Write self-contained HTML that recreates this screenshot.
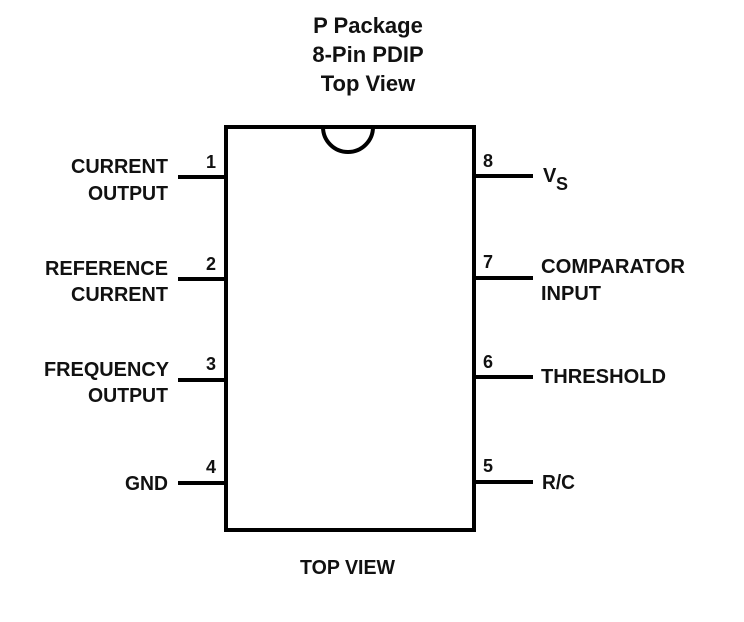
<!DOCTYPE html>
<html><head><style>body{margin:0;background:#fff}svg{display:block}</style></head>
<body>
<svg width="744" height="622" xmlns="http://www.w3.org/2000/svg" font-family="Liberation Sans, Arial, sans-serif" font-weight="bold" fill="#111">
<text x="368" y="33" font-size="22" text-anchor="middle">P Package</text>
<text x="368" y="62" font-size="22" text-anchor="middle">8-Pin PDIP</text>
<text x="368" y="91" font-size="22" text-anchor="middle">Top View</text>
<g stroke="#000" stroke-width="4" fill="none">
<rect x="226" y="127" width="248" height="403"/>
<path d="M323 127 A25 25 0 0 0 373 127"/>
<path d="M178 177H226M178 279H226M178 380H226M178 483H226M474 176H533M474 278H533M474 377H533M474 482H533"/>
</g>
<g font-size="20">
<text x="71" y="173" textLength="97" lengthAdjust="spacingAndGlyphs">CURRENT</text>
<text x="88" y="200" textLength="80" lengthAdjust="spacingAndGlyphs">OUTPUT</text>
<text x="45" y="275" textLength="123" lengthAdjust="spacingAndGlyphs">REFERENCE</text>
<text x="71" y="301" textLength="97" lengthAdjust="spacingAndGlyphs">CURRENT</text>
<text x="44" y="376" textLength="125" lengthAdjust="spacingAndGlyphs">FREQUENCY</text>
<text x="88" y="402" textLength="80" lengthAdjust="spacingAndGlyphs">OUTPUT</text>
<text x="125" y="490" textLength="43" lengthAdjust="spacingAndGlyphs">GND</text>
<text x="541" y="273" textLength="144" lengthAdjust="spacingAndGlyphs">COMPARATOR</text>
<text x="541" y="300" textLength="60" lengthAdjust="spacingAndGlyphs">INPUT</text>
<text x="541" y="383" textLength="125" lengthAdjust="spacingAndGlyphs">THRESHOLD</text>
<text x="542" y="489" textLength="33" lengthAdjust="spacingAndGlyphs">R/C</text>
<text x="543" y="182">V</text><text x="556" y="190" font-size="18">S</text>
<text x="300" y="574" textLength="95" lengthAdjust="spacingAndGlyphs">TOP VIEW</text>
</g>
<g font-size="18">
<text x="206" y="168">1</text><text x="206" y="270">2</text><text x="206" y="370">3</text><text x="206" y="473">4</text>
<text x="483" y="167">8</text><text x="483" y="268">7</text><text x="483" y="368">6</text><text x="483" y="472">5</text>
</g>
</svg>
</body></html>
